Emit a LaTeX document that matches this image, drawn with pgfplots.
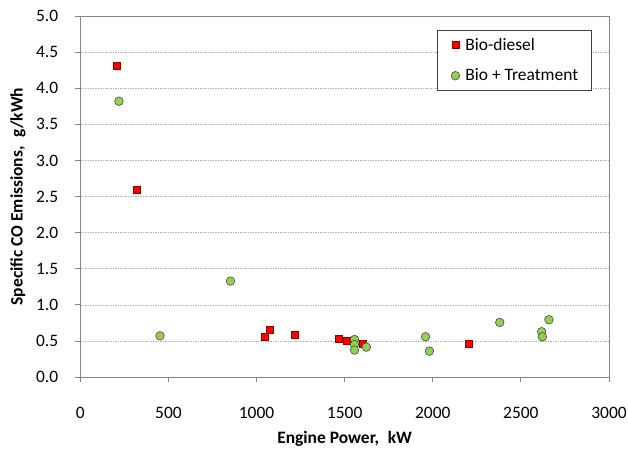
\documentclass[border=0pt]{standalone}
\usepackage{fontspec}
\setmainfont{Carlito}
\usepackage{pgfplots}
\pgfplotsset{compat=1.18}
\usetikzlibrary{calc}
\definecolor{bdRed}{HTML}{FF0000}
\definecolor{bdRedEdge}{HTML}{8B0000}
\definecolor{btGreen}{HTML}{92D050}
\definecolor{btEdge}{HTML}{4A4A4A}
\definecolor{axGray}{HTML}{868686}
\definecolor{gridGray}{HTML}{B4B4B4}

\begin{document}
\begin{tikzpicture}
\begin{axis}[
  name=ax,
  scale only axis,
  width=528.5bp, height=361bp,
  xmin=0, xmax=3000, ymin=0, ymax=5,
  xtick={0,500,...,3000}, ytick={0,0.5,...,5},
  xtick pos=bottom, ytick pos=left,
  tick align=outside, major tick length=5bp,
  tick style={draw=axGray, line width=0.8bp},
  axis line style={draw=axGray, line width=0.8bp},
  ymajorgrids,
  grid style={draw=gridGray, line width=0.6bp, dash pattern=on 1.5bp off 1bp},
  /pgf/number format/assume math mode=true,
  scaled x ticks=false,
  xticklabel style={font=\fontsize{17.5}{20}\selectfont, anchor=base, yshift=-36bp, inner sep=0pt},
  yticklabel style={font=\fontsize{17.5}{20}\selectfont, anchor=east, xshift=-17bp, inner sep=0pt,
    /pgf/number format/.cd, fixed, fixed zerofill, precision=1},
  xticklabel={\pgfmathprintnumber[fixed,1000 sep={}]{\tick}},
  xlabel={Engine Power,\enspace kW},
  ylabel={Specific CO Emissions,\enspace g/kWh},
  every axis x label/.style={at={(axis description cs:0.5,-0.183)}, anchor=base,
    font=\fontsize{17.5}{20}\selectfont\bfseries},
  every axis y label/.style={at={(axis description cs:-0.118,0.5)}, anchor=center, rotate=90,
    font=\fontsize{17.5}{20}\selectfont\bfseries},
  legend cell align=left,
  legend style={at={(axis description cs:0.675,0.961)}, anchor=north west,
    draw=black!75, line width=0.6bp, fill=white,
    font=\fontsize{17.5}{20}\selectfont,
    inner xsep=11bp, inner ysep=6bp, row sep=13bp},
  legend image code/.code={%
    \path[draw=none, fill=none] (0bp,-4bp) (15bp,4bp);
    \draw[#1] plot coordinates {(7bp,0bp)};},
]
\addplot[only marks, mark=square*, mark size=3.5bp,
  mark options={fill=bdRed, draw=bdRedEdge, line width=0.6bp}]
  coordinates {(206,4.31) (321,2.59) (1045,0.558) (1076,0.655) (1218,0.59)
    (1464,0.536) (1511,0.508) (1603,0.467) (2206,0.467)};
\addlegendentry{Bio-diesel}
\addplot[only marks, mark=*, mark size=4.3bp,
  mark options={fill=btGreen, draw=btEdge, line width=0.6bp}]
  coordinates {(219,3.82) (452,0.572) (852,1.33) (1556,0.52) (1556,0.45)
    (1556,0.374) (1623,0.415) (1959,0.558) (1981,0.36) (2380,0.757)
    (2618,0.628) (2622,0.558) (2659,0.794)};
\addlegendentry{Bio + Treatment}
\end{axis}
\path[use as bounding box] ($(ax.south west)+(-80.3bp,-73bp)$) rectangle ($(ax.north east)+(19bp,16bp)$);
\end{tikzpicture}
\end{document}
